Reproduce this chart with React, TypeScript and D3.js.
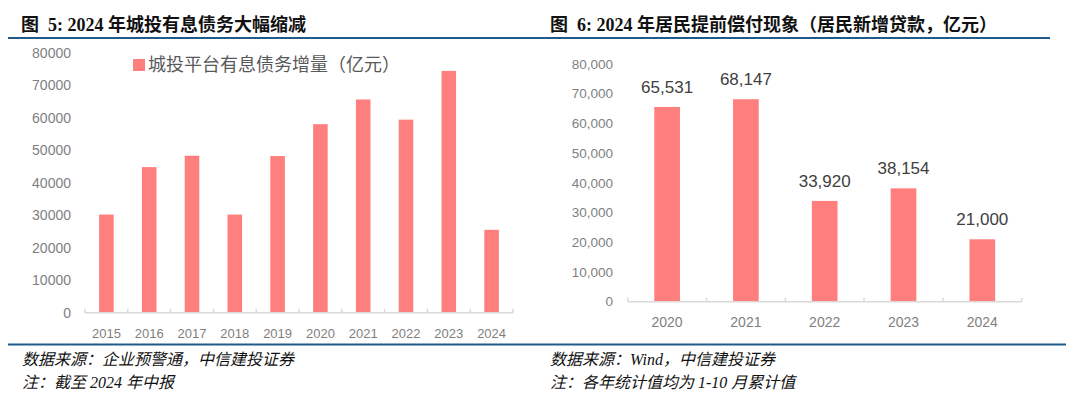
import { useRef, useEffect } from 'react'
import * as d3 from 'd3'

const leftYears = ['2015', '2016', '2017', '2018', '2019', '2020', '2021', '2022', '2023', '2024']
const leftValues = [30200, 44800, 48300, 30200, 48200, 58000, 65600, 59400, 74400, 25500]
const leftTicks = [0, 10000, 20000, 30000, 40000, 50000, 60000, 70000, 80000]
const leftLegend = '城投平台有息债务增量（亿元）'

const rightYears = ['2020', '2021', '2022', '2023', '2024']
const rightValues = [65531, 68147, 33920, 38154, 21000]
const rightTicks = [0, 10000, 20000, 30000, 40000, 50000, 60000, 70000, 80000]

const BAR = '#ff7f7f'
const AXIS = '#d9d9d9'
const TICK_TEXT = '#7f7f7f'
const SANS = '"Liberation Sans", Arial, sans-serif'
const TITLE_FONT = '"Liberation Serif", "Noto Sans CJK SC", serif'
const NOTE_FONT = '"Liberation Serif", "Noto Sans CJK SC", serif'

export default function App() {
  const svgRef = useRef<SVGSVGElement>(null)

  useEffect(() => {
    if (!svgRef.current) return
    const svg = d3.select(svgRef.current)
    svg.selectAll('*').remove()

    svg.append('rect').attr('width', 1080).attr('height', 398).attr('fill', '#fff')

    // Titles and rules
    const titles = [
      { x: 21, text: '图  5: 2024 年城投有息债务大幅缩减' },
      { x: 550, text: '图  6: 2024 年居民提前偿付现象（居民新增贷款，亿元）' },
    ]
    svg.selectAll('text.title')
      .data(titles)
      .join('text')
      .attr('class', 'title')
      .attr('x', (d) => d.x)
      .attr('y', 31)
      .attr('font-family', TITLE_FONT)
      .attr('font-weight', 700)
      .attr('font-size', '18px')
      .attr('fill', '#111')
      .attr('xml:space', 'preserve')
      .style('white-space', 'pre')
      .text((d) => d.text)

    svg.append('line')
      .attr('x1', 8).attr('x2', 1050).attr('y1', 38).attr('y2', 38)
      .attr('stroke', '#1f5a8a').attr('stroke-width', 2.2)
    svg.append('line')
      .attr('x1', 8).attr('x2', 1066).attr('y1', 344.5).attr('y2', 344.5)
      .attr('stroke', '#1f5a8a').attr('stroke-width', 2.2)

    // Footnotes
    const notes = [
      { x: 22, y: 365, text: '数据来源：企业预警通，中信建投证券' },
      { x: 22, y: 388, text: '注：截至 2024 年中报' },
      { x: 550, y: 365, text: '数据来源：Wind，中信建投证券' },
      { x: 550, y: 388, text: '注：各年统计值均为 1-10 月累计值' },
    ]
    svg.selectAll('text.note')
      .data(notes)
      .join('text')
      .attr('class', 'note')
      .attr('x', (d) => d.x)
      .attr('y', (d) => d.y)
      .attr('font-family', NOTE_FONT)
      .attr('font-style', 'italic')
      .attr('font-size', '16px')
      .attr('fill', '#111')
      .text((d) => d.text)

    // Generic bar panel
    const panel = (opts: {
      cats: string[]
      vals: number[]
      ticks: number[]
      x0: number
      x1: number
      yTop: number
      yBase: number
      barRatio: number
      tickFmt: (n: number) => string
      tickRight: number
      tickSize: number
      catY: number
      catSize: number
      labels: boolean
    }) => {
      const x = d3.scaleBand<string>().domain(opts.cats).range([opts.x0, opts.x1]).padding(0)
      const y = d3.scaleLinear().domain([0, 80000]).range([opts.yBase, opts.yTop])
      const step = x.step()
      const bw = step * opts.barRatio
      const g = svg.append('g')

      g.selectAll('text.ytick')
        .data(opts.ticks)
        .join('text')
        .attr('x', opts.tickRight)
        .attr('y', (d) => y(d))
        .attr('dy', '0.35em')
        .attr('text-anchor', 'end')
        .attr('font-family', SANS)
        .attr('font-size', `${opts.tickSize}px`)
        .attr('fill', TICK_TEXT)
        .text((d) => opts.tickFmt(d))

      g.selectAll('rect.bar')
        .data(opts.cats)
        .join('rect')
        .attr('x', (d) => (x(d) ?? 0) + (step - bw) / 2)
        .attr('y', (d, i) => y(opts.vals[i]))
        .attr('width', bw)
        .attr('height', (d, i) => opts.yBase - y(opts.vals[i]))
        .attr('fill', BAR)

      g.append('line')
        .attr('x1', opts.x0).attr('x2', opts.x1)
        .attr('y1', opts.yBase).attr('y2', opts.yBase)
        .attr('stroke', AXIS).attr('stroke-width', 1.5)

      const edges = [...opts.cats.map((c) => x(c) ?? 0), opts.x1]
      g.selectAll('line.tk')
        .data(edges)
        .join('line')
        .attr('x1', (d) => d).attr('x2', (d) => d)
        .attr('y1', opts.yBase).attr('y2', opts.yBase - 4)
        .attr('stroke', AXIS).attr('stroke-width', 1.5)

      g.selectAll('text.cat')
        .data(opts.cats)
        .join('text')
        .attr('x', (d) => (x(d) ?? 0) + step / 2)
        .attr('y', opts.catY)
        .attr('dy', '0.35em')
        .attr('text-anchor', 'middle')
        .attr('font-family', SANS)
        .attr('font-size', `${opts.catSize}px`)
        .attr('fill', TICK_TEXT)
        .text((d) => d)

      if (opts.labels) {
        g.selectAll('text.val')
          .data(opts.cats)
          .join('text')
          .attr('x', (d) => (x(d) ?? 0) + step / 2)
          .attr('y', (d, i) => y(opts.vals[i]) - 14)
          .attr('text-anchor', 'middle')
          .attr('font-family', SANS)
          .attr('font-size', '17px')
          .attr('fill', '#404040')
          .text((d, i) => d3.format(',')(opts.vals[i]))
      }
    }

    panel({
      cats: leftYears, vals: leftValues, ticks: leftTicks,
      x0: 85, x1: 513, yTop: 52.7, yBase: 312.7, barRatio: 0.34,
      tickFmt: (n) => String(n), tickRight: 71, tickSize: 14,
      catY: 333, catSize: 13, labels: false,
    })

    panel({
      cats: rightYears, vals: rightValues, ticks: rightTicks,
      x0: 627.7, x1: 1021.7, yTop: 64, yBase: 301.7, barRatio: 0.326,
      tickFmt: (n) => d3.format(',')(n), tickRight: 613, tickSize: 13.5,
      catY: 322, catSize: 14, labels: true,
    })

    // Legend
    svg.append('rect').attr('x', 133).attr('y', 59).attr('width', 12).attr('height', 12).attr('fill', BAR)
    svg.append('text')
      .attr('x', 148).attr('y', 65).attr('dy', '0.35em')
      .attr('font-family', '"Noto Sans CJK SC", sans-serif')
      .attr('font-size', '18px')
      .attr('fill', '#595959')
      .text(leftLegend)
  }, [])

  return (
    <svg
      ref={svgRef}
      width={1080}
      height={398}
      style={{ position: 'absolute', left: 0, top: 0, display: 'block' }}
    />
  )
}
